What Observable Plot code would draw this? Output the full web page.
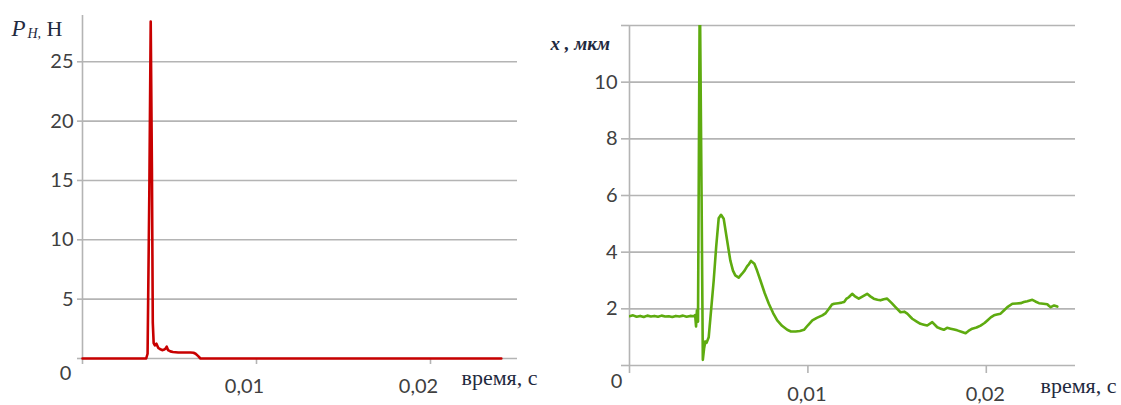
<!DOCTYPE html>
<html>
<head>
<meta charset="utf-8">
<script src="https://cdn.jsdelivr.net/npm/d3@7"></script>
<script src="https://cdn.jsdelivr.net/npm/@observablehq/plot@0.6"></script>
<style>
  html, body { margin: 0; padding: 0; background: #fff; }
  #wrap { position: relative; width: 1121px; height: 405px; overflow: hidden; }
  #left, #right { position: absolute; top: 0; }
  #left { left: 0; }
  #right { left: 560px; }
</style>
</head>
<body>
<div id="wrap"><div id="left"></div><div id="right"></div></div>
<script>
// ---------- data ----------
const xTicks = [0, 0.01, 0.02];
const leftYTicks = [0, 5, 10, 15, 20, 25];
const rightYTicks = [0, 2, 4, 6, 8, 10, 12];
const xLabel = "время, с";

// Left chart: force P_H (N) vs time (s)
const redTime = [0, 0.00366, 0.00374, 0.00384, 0.00392, 0.00399, 0.00404, 0.00409, 0.00416, 0.00425, 0.00435, 0.00445, 0.00458, 0.0047, 0.00478, 0.00484, 0.00492, 0.00505, 0.0052, 0.0055, 0.0058, 0.0062, 0.00638, 0.0065, 0.00665, 0.00678, 0.02407];
const redP    = [0, 0, 0.4, 14, 28.4, 16, 3, 1.3, 1.1, 1.25, 0.9, 0.8, 0.7, 0.75, 0.85, 1.0, 0.7, 0.6, 0.55, 0.5, 0.5, 0.5, 0.48, 0.4, 0.2, 0, 0];

// Right chart: displacement x (µm) vs time (s)
const greenTime = [0, 0.0002, 0.0004, 0.0006, 0.0008, 0.001, 0.0012, 0.0014, 0.0016, 0.0018, 0.002, 0.0022, 0.0024, 0.0026, 0.0028, 0.003, 0.0032, 0.0034, 0.0036,
  0.00368, 0.00373, 0.00378, 0.00384, 0.00394, 0.00404, 0.00411, 0.00418, 0.00425, 0.00432, 0.00444, 0.00458, 0.00472, 0.00486, 0.005, 0.00513, 0.00528, 0.00545,
  0.00565, 0.0058, 0.00593, 0.00612, 0.00631, 0.00645, 0.00659, 0.0067, 0.00681, 0.007, 0.00715, 0.00734, 0.00758, 0.00781, 0.00805, 0.00828, 0.00855, 0.00884,
  0.00905, 0.00931, 0.00955, 0.00978, 0.01, 0.01025, 0.0105, 0.01081, 0.011, 0.01118, 0.01135, 0.01147, 0.0117, 0.0119, 0.01203, 0.01215, 0.01229, 0.01248,
  0.01262, 0.01285, 0.0131, 0.01332, 0.0135, 0.01369, 0.0139, 0.01407, 0.01425, 0.01444, 0.0147, 0.01491, 0.01519, 0.0154, 0.01557, 0.01585, 0.0161, 0.01631,
  0.0165, 0.01669, 0.01697, 0.01725, 0.01745, 0.01762, 0.0178, 0.018, 0.0182, 0.01837, 0.0186, 0.01884, 0.019, 0.01921, 0.01945, 0.01968, 0.0199, 0.02006,
  0.02025, 0.02043, 0.0206, 0.0208, 0.021, 0.02118, 0.02146, 0.0217, 0.02193, 0.0221, 0.0223, 0.02258, 0.02275, 0.02295, 0.0232, 0.02342, 0.02352, 0.02361,
  0.0238, 0.02398];
const greenX = [1.74, 1.77, 1.72, 1.75, 1.71, 1.76, 1.73, 1.75, 1.72, 1.76, 1.73, 1.74, 1.71, 1.75, 1.73, 1.76, 1.72, 1.75, 1.74,
  1.78, 1.38, 1.95, 1.55, 13.5, 6, 0.2, 0.6, 0.85, 0.8, 1.0, 2.0, 3.0, 4.2, 5.2, 5.32, 5.18, 4.5,
  3.71, 3.35, 3.18, 3.1, 3.24, 3.35, 3.5, 3.58, 3.69, 3.59, 3.35, 3.0, 2.55, 2.18, 1.85, 1.59, 1.4, 1.26,
  1.2, 1.2, 1.22, 1.26, 1.42, 1.59, 1.68, 1.77, 1.85, 2.0, 2.15, 2.18, 2.2, 2.22, 2.24, 2.35, 2.41, 2.53,
  2.45, 2.36, 2.45, 2.53, 2.44, 2.36, 2.32, 2.3, 2.34, 2.36, 2.2, 2.06, 1.88, 1.9, 1.83, 1.65, 1.55, 1.47,
  1.44, 1.41, 1.53, 1.35, 1.3, 1.26, 1.33, 1.3, 1.27, 1.24, 1.19, 1.14, 1.22, 1.3, 1.34, 1.41, 1.5, 1.59,
  1.7, 1.77, 1.8, 1.83, 1.95, 2.06, 2.18, 2.19, 2.2, 2.24, 2.27, 2.32, 2.26, 2.2, 2.18, 2.16, 2.1, 2.06,
  2.12, 2.08];

// ---------- styling ----------
const grid = "#b4b4b4";
const labelColor = "#404040";
const titleColor = "#1f2a40";
const sansFont = "Lato, 'Open Sans', sans-serif";
const serifFont = "'Liberation Serif', 'DejaVu Serif', serif";
const fmtX = d => d === 0 ? "" : String(d).replace(".", ",");

const redData = redTime.map((t, i) => ({t, v: redP[i]}));
const greenData = greenTime.map((t, i) => ({t, v: greenX[i]}));

function chart({width, ml, mr, mt, mb, yDomain, yTicks, gridTicks, yFmt, ySize, xTickSize, xLabelDx, xLabelPad, zeroDx, zeroDy, data, color, clip, titleMarks, xlDx, xlDy}) {
  return Plot.plot({
    width, height: 405,
    marginLeft: ml, marginRight: mr, marginTop: mt, marginBottom: mb,
    x: {domain: [0, 0.025], axis: null},
    y: {domain: yDomain, axis: null},
    style: {fontFamily: sansFont, fontSize: "20px", color: labelColor, background: "white", overflow: "visible"},
    marks: [
      Plot.ruleY(gridTicks, {stroke: grid, strokeWidth: 1.6}),
      Plot.ruleX([0], {stroke: grid, strokeWidth: 1.6}),
      Plot.axisY(yTicks, {tickSize: ySize, tickPadding: 4, stroke: grid, strokeWidth: 1.6, tickFormat: yFmt, label: null, fontSize: 20, fill: labelColor}),
      Plot.axisX(xTicks, {tickSize: xTickSize, stroke: grid, strokeWidth: 1.6, tickFormat: () => "", label: null}),
      Plot.axisX(xTicks, {tickSize: 0, tickPadding: xLabelPad, dx: xLabelDx, tickFormat: fmtX, label: null, fontSize: 20, fill: labelColor}),
      Plot.text(["0"], {text: d => d, frameAnchor: "bottom-left", dx: zeroDx, dy: zeroDy, textAnchor: "middle", lineAnchor: "middle", fontSize: 20, fill: labelColor}),
      Plot.line(data, {x: "t", y: "v", stroke: color, strokeWidth: 2.6, clip, strokeLinejoin: "round"}),
      Plot.text([xLabel], {text: d => d, frameAnchor: "bottom-right", dx: xlDx, dy: xlDy, textAnchor: "start", lineAnchor: "bottom", fontFamily: serifFont, fontSize: 22, fill: titleColor}),
      ...titleMarks
    ]
  });
}

// Left chart
const left = chart({
  width: 560, ml: 82, mr: 43, mt: 15, mb: 47,
  yDomain: [0, 28.9], yTicks: leftYTicks, gridTicks: leftYTicks,
  yFmt: d => d === 0 ? "" : String(d), ySize: 5,
  xTickSize: 6, xLabelDx: -12, xLabelPad: 20, zeroDx: -17, zeroDy: 15,
  data: redData, color: "#c80000", clip: false,
  xlDx: -56, xlDy: 26,
  titleMarks: [
    Plot.text(["P"], {text: d => d, frameAnchor: "top-left", dx: -71, dy: 20, textAnchor: "start", lineAnchor: "bottom", fontFamily: serifFont, fontStyle: "italic", fontSize: 23, fill: titleColor}),
    Plot.text(["Н,"], {text: d => d, frameAnchor: "top-left", dx: -55, dy: 22, textAnchor: "start", lineAnchor: "bottom", fontFamily: serifFont, fontStyle: "italic", fontSize: 14, fill: titleColor}),
    Plot.text(["Н"], {text: d => d, frameAnchor: "top-left", dx: -36, dy: 20, textAnchor: "start", lineAnchor: "bottom", fontFamily: serifFont, fontSize: 22, fill: titleColor})
  ]
});
document.getElementById("left").append(left);

// Right chart
const right = chart({
  width: 561, ml: 69, mr: 46, mt: 25, mb: 40,
  yDomain: [0, 12], yTicks: rightYTicks, gridTicks: rightYTicks,
  yFmt: d => (d === 0 || d === 12) ? "" : String(d), ySize: 8,
  xTickSize: 8, xLabelDx: -1, xLabelPad: 21, zeroDx: -13, zeroDy: 16,
  data: greenData, color: "#5eab10", clip: true,
  xlDx: -35, xlDy: 27,
  titleMarks: [
    Plot.text(["x , мкм"], {text: d => d, frameAnchor: "top-left", dx: -79, dy: 24, textAnchor: "start", lineAnchor: "bottom", fontFamily: serifFont, fontStyle: "italic", fontWeight: "bold", fontSize: 19, fill: titleColor})
  ]
});
document.getElementById("right").append(right);
</script>
</body>
</html>
